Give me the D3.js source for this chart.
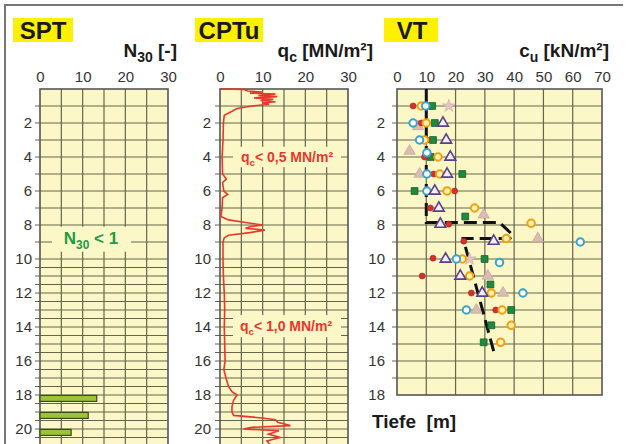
<!DOCTYPE html>
<meta charset="utf-8">
<style>
body { margin: 0; background: #fff; }
text { font-family: "Liberation Sans", Arial, sans-serif; }
.axis path { display: none; }
.axis text { fill: #333; font-size: 15px; }
</style>
<div id="viz"></div>
<script src="https://cdn.jsdelivr.net/npm/d3@7"></script>
<script>
// ---- data ----
var sptDepth = [18.2, 19.2, 20.2];
var sptN30   = [13.3, 11.3, 7.3];

var cptDepth = [0, 0.02, 0.12, 0.18, 0.24, 0.3, 0.38, 0.45, 0.52, 0.6, 0.68, 0.75, 0.82, 0.9, 1.0, 1.15, 1.35, 1.55, 2, 3, 4, 5, 5.3, 5.5, 6.0, 6.2, 6.4, 7, 7.5, 7.7, 7.85, 8.0, 8.1, 8.2, 8.3, 8.45, 8.6, 8.75, 9, 10, 11, 12, 13, 14, 15, 16, 16.5, 17, 17.5, 17.8, 18.0, 18.3, 18.7, 19.0, 19.2, 19.35, 19.45, 19.6, 19.8, 19.9, 20.0, 20.1, 20.3, 20.5, 20.7, 21];
var cptQc    = [0.2, 5.5, 6.5, 10, 7, 13, 9, 13.4, 8, 12.5, 9.5, 13, 10, 11.5, 7.5, 4, 2.5, 1, 0.8, 0.7, 0.5, 0.6, 1.5, 0.6, 0.9, 1.8, 0.6, 0.5, 0.2, 2, 6, 10, 7, 6, 10.5, 7, 2, 1, 0.7, 0.7, 0.8, 1, 1.1, 1, 1.1, 1.2, 0.9, 1.4, 2, 2.8, 4, 3.2, 2.8, 2.8, 3.2, 9.8, 13, 13.5, 16.5, 7.5, 5.5, 13.8, 11.4, 14.1, 11, 12];

// VT series: [depth, cu]
var vtRed    = [[1.0,5.5],[2.0,8.3],[3.0,10.2],[4.0,9.4],[5.0,12.5],[6.0,19.7],[7.0,11.4],[7.95,17.7],[8.95,22.8],[9.95,12.3],[11.0,8.6],[12.0,25.4],[13.0,33.7]];
var vtOrange = [[1.0,8.3],[2.0,10],[3.0,9.4],[4.0,14],[5.0,14.6],[6.0,17.1],[7.0,26.5],[7.9,45.8],[8.8,37.3],[10.0,22.3],[11.0,24.8],[12.0,32.2],[13.0,35.9],[13.9,39],[14.9,35.4]];
var vtGreen  = [[1.0,12],[2.0,12.9],[3.0,12.3],[4.0,11.5],[5.0,22.3],[6.0,6],[7.5,23.3],[10.0,29.9],[11.5,31.9],[13.0,39],[13.9,32.2],[14.9,29.6]];
var vtPurple = [[2.0,15.7],[3.0,16.8],[4.0,18.2],[5.0,17.1],[6.0,12.9],[7.0,14.3],[7.95,14.8],[8.95,33],[10.0,16.6],[11.0,21.6],[12.0,29.1]];
var vtCyan   = [[1.0,9.8],[2.0,5.5],[3.0,7.7],[3.75,10.2],[5.0,10.2],[6.0,10.2],[9.0,62.6],[10.0,20.3],[10.2,35],[12.0,43],[13.0,23.7]];
var vtTan    = [[2.2,7.2],[3.65,4.3],[5.0,7.7],[7.4,29.6],[8.8,48.1],[11.0,31],[12.0,36.2],[13.0,27.1]];
var vtStar   = [[1.0,17.7],[10.0,24.8]];
var vtTrend  = [[0,10],[7.85,10],[7.85,35],[8.6,39.6],[8.8,38.5],[8.8,22.6],[15.6,33.3]];

var xTicksSmall = [0, 10, 20, 30];
var xTicksVT    = [0, 10, 20, 30, 40, 50, 60, 70];
var depthTicks  = [2, 4, 6, 8, 10, 12, 14, 16, 18, 20];
var depthTicksVT = [2, 4, 6, 8, 10, 12, 14, 16, 18];

// ---- layout ----
var bg = "#fcf7c6", gridCol = "#66664f";

var svg = d3.select("#viz").append("svg")
    .attr("width", 626).attr("height", 444);

// outer frame (top + left)
svg.append("path").attr("d", "M5,444V5H623")
    .attr("fill", "none").attr("stroke", "#777").attr("stroke-width", 2);

var yDeep = d3.scaleLinear().domain([0, 21]).range([89, 446]);
var yVT   = d3.scaleLinear().domain([0, 18]).range([89, 395]);
var xSpt  = d3.scaleLinear().domain([0, 30]).range([40, 168]);
var xCpt  = d3.scaleLinear().domain([0, 30]).range([220, 348]);
var xVT   = d3.scaleLinear().domain([0, 70]).range([397, 602]);

var hLinesDeep = d3.range(1, 10, 1).concat(d3.range(10, 21.01, 0.5));

function panel(x, y, hLines, vStep, xTicks, yTicks, labPad) {
  var g = svg.append("g");
  var x0 = x.range()[0], x1 = x.range()[1];
  var y0 = y.range()[0], y1 = y.range()[1];
  g.append("rect").attr("x", x0).attr("y", y0).attr("width", x1 - x0).attr("height", y1 - y0)
    .attr("fill", bg);
  // horizontal grid with small left ticks
  g.append("g").selectAll("line").data(hLines).enter().append("line")
    .attr("x1", x0 - 5).attr("x2", x1)
    .attr("y1", function(d) { return y(d); }).attr("y2", function(d) { return y(d); })
    .attr("stroke", gridCol).attr("stroke-width", 1.2);
  // vertical grid
  var dom = x.domain();
  g.append("g").selectAll("line").data(d3.range(dom[0] + vStep, dom[1], vStep)).enter().append("line")
    .attr("x1", function(d) { return x(d); }).attr("x2", function(d) { return x(d); })
    .attr("y1", y0).attr("y2", y1)
    .attr("stroke", gridCol).attr("stroke-width", 1.2);
  g.append("rect").attr("x", x0).attr("y", y0).attr("width", x1 - x0).attr("height", y1 - y0)
    .attr("fill", "none").attr("stroke", "#555").attr("stroke-width", 1.6);
  // top tick labels
  svg.append("g").attr("class", "axis").attr("transform", "translate(0,82)")
    .call(d3.axisTop(x).tickValues(xTicks).tickSize(0).tickPadding(0));
  // depth labels
  svg.append("g").attr("class", "axis").attr("transform", "translate(" + x0 + ",0)")
    .call(d3.axisLeft(y).tickValues(yTicks).tickSize(0).tickPadding(labPad));
  return g;
}

var gSpt = panel(xSpt, yDeep, hLinesDeep, 5, xTicksSmall, depthTicks, 8);
var gCpt = panel(xCpt, yDeep, hLinesDeep, 5, xTicksSmall, depthTicks, 9);
var gVT  = panel(xVT, yVT, d3.range(1, 18, 1), 10, xTicksVT, depthTicksVT, 12);

// headings
function heading(txt, x0, x1, cx) {
  svg.append("rect").attr("x", x0).attr("y", 18).attr("width", x1 - x0).attr("height", 24)
    .attr("fill", "#fff000");
  svg.append("text").attr("x", cx).attr("y", 39).attr("text-anchor", "middle")
    .attr("font-size", 24).attr("font-weight", "bold").attr("fill", "#1a1a1a").text(txt);
}
heading("SPT", 13, 73, 43);
heading("CPTu", 195, 263, 229);
heading("VT", 384, 438, 412);

function unitTitle(xEnd, main, sub, rest) {
  var t = svg.append("text").attr("x", xEnd).attr("y", 57).attr("text-anchor", "end")
    .attr("font-size", 19).attr("font-weight", "bold").attr("fill", "#1a1a1a");
  t.append("tspan").text(main);
  t.append("tspan").attr("font-size", 14).attr("dy", 5).text(sub);
  t.append("tspan").attr("dy", -5).text(rest);
}
unitTitle(177, "N", "30", " [-]");
unitTitle(373, "q", "c", " [MN/m²]");
unitTitle(609, "c", "u", " [kN/m²]");

// SPT bars
gSpt.append("g").selectAll("rect").data(sptDepth).enter().append("rect")
  .attr("x", xSpt(0))
  .attr("y", function(d) { return yDeep(d) - 3; })
  .attr("width", function(d, i) { return xSpt(sptN30[i]) - xSpt(0); })
  .attr("height", 6)
  .attr("fill", "#9cc43a").attr("stroke", "#3d4a1a").attr("stroke-width", 1.2);

// label boxes (cover grid)
function labelBox(g, bx0, bx1, by0, by1, cx, cy, col, size, main, sub, rest) {
  g.append("rect").attr("x", bx0).attr("y", by0).attr("width", bx1 - bx0).attr("height", by1 - by0)
    .attr("fill", bg);
  var t = g.append("text").attr("x", cx).attr("y", cy).attr("text-anchor", "middle")
    .attr("font-size", size).attr("font-weight", "bold").attr("fill", col);
  t.append("tspan").text(main);
  t.append("tspan").attr("font-size", size * 0.7).attr("dy", size * 0.3).text(sub);
  t.append("tspan").attr("dy", -size * 0.3).text(rest);
}
labelBox(gSpt, 52, 131, yDeep(8.1), yDeep(9.57), 91, 244, "#1f9a45", 17, "N", "30", " < 1");
labelBox(gCpt, 233, 341, yDeep(3.4), yDeep(4.6), 287, 162, "#e8372c", 14, "q", "c", "< 0,5 MN/m²");
labelBox(gCpt, 233, 341, yDeep(13.3), yDeep(14.6), 286, 331, "#e8372c", 14, "q", "c", "< 1,0 MN/m²");

// CPTu curve
var cptLine = d3.line()
  .x(function(d, i) { return xCpt(cptQc[i]); })
  .y(function(d) { return yDeep(d); });
gCpt.append("path").datum(cptDepth).attr("d", cptLine)
  .attr("fill", "none").attr("stroke", "#e8372c").attr("stroke-width", 1.6);

// VT trend line
var trend = d3.line().x(function(d) { return xVT(d[1]); }).y(function(d) { return yVT(d[0]); });
gVT.append("path").datum(vtTrend).attr("d", trend)
  .attr("fill", "none").attr("stroke", "#111").attr("stroke-width", 3)
  .attr("stroke-dasharray", "13,6");

// VT markers
function marks(data, type, size, fill, stroke, sw) {
  gVT.append("g").selectAll("path").data(data).enter().append("path")
    .attr("transform", function(d) { return "translate(" + xVT(d[1]) + "," + yVT(d[0]) + ")"; })
    .attr("d", d3.symbol().type(type).size(size))
    .attr("fill", fill).attr("stroke", stroke).attr("stroke-width", sw);
}
marks(vtTan, d3.symbolTriangle, 55, "#d9bcb2", "#c9aaa0", 0.8);
marks(vtStar, d3.symbolStar, 50, "#e2c6c2", "#d6b4b0", 0.8);
marks(vtGreen, d3.symbolSquare, 46, "#1e8a3e", "#145c2a", 0.8);
marks(vtRed, d3.symbolCircle, 28, "#d6302c", "#b02020", 0.6);
marks(vtOrange, d3.symbolCircle, 44, "#fff3b0", "#f0a010", 2);
marks(vtCyan, d3.symbolCircle, 44, "#ffffff", "#3aa2d2", 2);
marks(vtPurple, d3.symbolTriangle, 50, "#f2eefa", "#5a3f8e", 1.6);

// depth axis title
svg.append("text").attr("x", 372).attr("y", 428)
  .attr("font-size", 19).attr("font-weight", "bold").attr("fill", "#1a1a1a")
  .attr("xml:space", "preserve").text("Tiefe  [m]");
</script>
